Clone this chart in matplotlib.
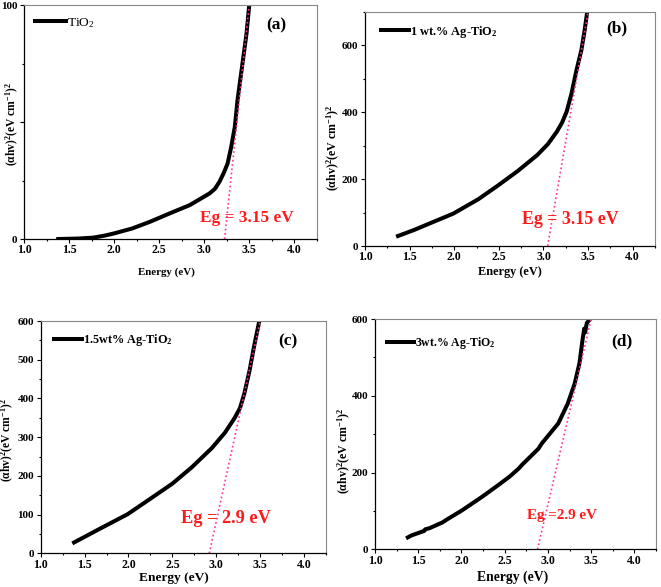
import matplotlib
matplotlib.use("Agg")
import matplotlib.pyplot as plt
from matplotlib.ticker import MultipleLocator

plt.rcParams['font.family'] = ['Liberation Serif', 'DejaVu Serif']
plt.rcParams['font.weight'] = 'bold'
plt.rcParams['mathtext.default'] = 'regular'

# ---- data ----
e_a = [1.38, 1.6, 1.77, 1.9, 2.0, 2.2, 2.4, 2.62, 2.84, 3.06, 3.12, 3.17, 3.22, 3.26, 3.30, 3.34, 3.37, 3.42, 3.47, 3.5]
v_a = [0.0, 0.2, 0.6, 1.5, 2.4, 4.5, 7.4, 11.0, 14.5, 19.5, 21.5, 24.5, 28.5, 32.3, 39.4, 48.0, 59.4, 73.6, 87.9, 100.0]

e_b = [1.37, 1.55, 1.72, 1.99, 2.27, 2.49, 2.71, 2.93, 3.05, 3.15, 3.21, 3.26, 3.315, 3.37, 3.425, 3.462, 3.49]
v_b = [30, 48, 67, 97, 140, 181, 224, 272, 305, 342, 370, 402, 457, 526, 586, 646, 700]

e_c = [1.38, 1.67, 1.99, 2.23, 2.50, 2.72, 2.95, 3.10, 3.21, 3.27, 3.32, 3.38, 3.43, 3.49]
v_c = [28, 63, 101, 138, 180, 222, 272, 312, 350, 375, 413, 473, 534, 600]

e_d = [1.38, 1.42, 1.57, 1.58, 1.63, 1.78, 1.82, 2.01, 2.24, 2.43, 2.56, 2.66, 2.70, 2.89,
       2.93, 3.12, 3.23, 3.31, 3.365, 3.40, 3.42, 3.43, 3.45, 3.49]
v_d = [31, 36, 48, 52, 55, 70, 76, 102, 137, 168, 190, 210, 220, 262,
       276, 328, 380, 432, 485, 545, 575, 565, 590, 600]

# band-gap extrapolation lines
fit_a = ([3.226, 3.5], [0, 100])
fit_b = ([3.047, 3.5], [0, 700])
fit_c = ([2.92, 3.5], [0, 600])
fit_d = ([2.88, 3.5], [0, 600])

labels = ['TiO$_2$', '1 wt.% Ag-TiO$_2$', '1.5wt% Ag-TiO$_2$', '3wt.% Ag-TiO$_2$']
panel_tags = ['(a)', '(b)', '(c)', '(d)']
eg_texts = ['Eg = 3.15 eV', 'Eg = 3.15 eV', 'Eg = 2.9 eV', 'Eg =2.9 eV']
ylims = [100, 700, 600, 600]
ymaj = [50, 200, 100, 200]
ymin = [25, 100, 50, 100]

# layout / style settings (not data)
rects = [
    [0.0363, 0.5928, 0.443, 0.3986],
    [0.5522, 0.5809, 0.4387, 0.3986],
    [0.0616, 0.0574, 0.4316, 0.3957],
    [0.5673, 0.0642, 0.4251, 0.3923],
]
eg_pos = [(2.949, 7.4), (2.764, 65.8), (2.60, 79), (2.762, 78)]
eg_size = [12.4, 12.9, 13.2, 10.9]
xlab_size = [7.8, 8.8, 9.6, 9.8]
xlab_pos = [(0.485, -0.141), (0.498, -0.111), (0.467, -0.108), (0.491, -0.122)]
ylab_size = [8.3, 8.6, 8.3, 8.6]
ylab_pos = [(-0.040, 0.49), (-0.108, 0.42), (-0.118, 0.49), (-0.110, 0.43)]
leg_pos = [(0.0375, 0.923), (0.054, 0.916), (0.047, 0.918), (0.042, 0.894)]
leg_size = [9.7, 8.9, 8.8, 8.5]
leg_w = ['normal', 'bold', 'bold', 'bold']
tag_pos = [(0.86, 0.915), (0.87, 0.93), (0.868, 0.911), (0.878, 0.901)]

fig = plt.figure(figsize=(6.61, 5.87), dpi=100)
data = [(e_a, v_a, fit_a), (e_b, v_b, fit_b), (e_c, v_c, fit_c), (e_d, v_d, fit_d)]

for i, (rect, (ex, vy, fit)) in enumerate(zip(rects, data)):
    ax = fig.add_axes(rect)
    ax.plot(ex, vy, color='black', lw=2.9, label=labels[i], solid_joinstyle='round')
    ax.plot(fit[0], fit[1], color='#ff3399', lw=1.2, ls=(0, (1, 1.6)))
    ax.set_xlim(1.0, 4.25)
    ax.set_ylim(0, ylims[i])
    ax.xaxis.set_major_locator(MultipleLocator(0.5))
    ax.xaxis.set_minor_locator(MultipleLocator(0.25))
    ax.yaxis.set_major_locator(MultipleLocator(ymaj[i]))
    ax.yaxis.set_minor_locator(MultipleLocator(ymin[i]))
    ax.tick_params(which='major', direction='out', length=2.6, width=0.8)
    ax.tick_params(which='minor', direction='out', length=1.6, width=0.8)
    ax.tick_params(axis='x', which='major', labelsize=8.6, pad=1.3)
    ax.tick_params(axis='y', which='major', labelsize=8.0, pad=2.2)
    if i == 0:
        ax.set_yticks([0, 50, 100])
        ax.set_yticklabels(['0', '', '100'])
    for lab in ax.get_xticklabels() + ax.get_yticklabels():
        lab.set_fontweight('bold')
    for s in ['top', 'right']:
        ax.spines[s].set_color('#888888')
        ax.spines[s].set_linewidth(0.8)
    for s in ['left', 'bottom']:
        ax.spines[s].set_linewidth(0.9)
    ax.set_xlabel('Energy (eV)', fontsize=xlab_size[i], fontweight='bold')
    ax.xaxis.set_label_coords(*xlab_pos[i])
    ax.xaxis.label.set_verticalalignment('center')
    ax.set_ylabel('(αhv)$^2$(eV cm$^{-1}$)$^2$', fontsize=ylab_size[i], fontweight='bold')
    ax.yaxis.set_label_coords(*ylab_pos[i])
    ax.yaxis.label.set_verticalalignment('center')
    ax.legend(loc='center left', bbox_to_anchor=leg_pos[i], frameon=False,
              handlelength=2.3, handletextpad=0.05, borderpad=0, borderaxespad=0,
              prop={'size': leg_size[i], 'weight': leg_w[i]})
    ax.text(tag_pos[i][0], tag_pos[i][1], panel_tags[i], transform=ax.transAxes,
            fontsize=12.5, fontweight='bold', ha='center', va='center')
    ax.text(eg_pos[i][0], eg_pos[i][1], eg_texts[i], color='#ff1a1a', fontsize=eg_size[i],
            fontweight='bold', ha='left', va='baseline')

fig.savefig('out.png', dpi=100)
